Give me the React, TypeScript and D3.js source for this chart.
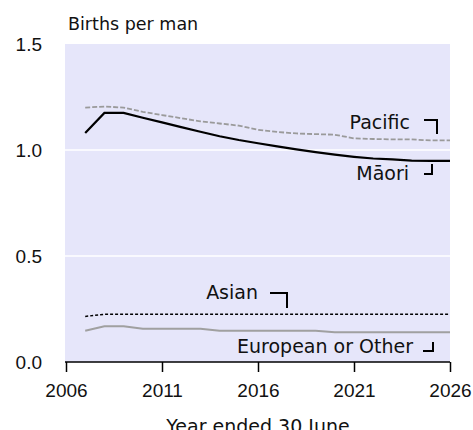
import React, { useEffect, useRef } from "react";
import * as d3 from "d3";

// Projected births per man, by ethnicity

const years = [2007, 2008, 2009, 2010, 2011, 2012, 2013, 2014, 2015, 2016, 2017, 2018, 2019, 2020, 2021, 2022, 2023, 2024, 2025, 2026];
const maori = [1.08, 1.175, 1.175, 1.152, 1.13, 1.108, 1.086, 1.065, 1.047, 1.032, 1.017, 1.003, 0.99, 0.978, 0.968, 0.96, 0.956, 0.95, 0.949, 0.949];
const pacific = [1.2, 1.205, 1.2, 1.18, 1.165, 1.15, 1.135, 1.125, 1.115, 1.095, 1.085, 1.078, 1.075, 1.072, 1.055, 1.052, 1.05, 1.05, 1.045, 1.045];
const asian = [0.215, 0.225, 0.225, 0.225, 0.225, 0.225, 0.225, 0.225, 0.225, 0.225, 0.225, 0.225, 0.225, 0.225, 0.225, 0.225, 0.225, 0.225, 0.225, 0.225];
const european = [0.147, 0.169, 0.169, 0.157, 0.157, 0.157, 0.157, 0.147, 0.147, 0.147, 0.147, 0.147, 0.147, 0.14, 0.14, 0.14, 0.14, 0.14, 0.14, 0.14];

const xTicks = [2006, 2011, 2016, 2021, 2026];
const yTicks = [0, 0.5, 1, 1.5];
const gridTicks = [0.5, 1];

const numFont = "'Liberation Sans', Arial, sans-serif";
const txtFont = "'DejaVu Sans', Verdana, sans-serif";

export default function App() {
  const ref = useRef<SVGSVGElement>(null);

  useEffect(() => {
    document.body.style.margin = "0";
    const svg = d3.select(ref.current);
    svg.selectAll("*").remove();

    const x = d3.scaleLinear().domain([2006, 2026]).range([66, 450]);
    const y = d3.scaleLinear().domain([0, 1.5]).range([362, 44]);

    // plot background
    svg.append("rect")
      .attr("x", 65).attr("y", y(1.5))
      .attr("width", 450 - 65).attr("height", y(0) - y(1.5))
      .attr("fill", "#e6e6fa");

    svg.selectAll(".grid").data(gridTicks).join("line")
      .attr("class", "grid")
      .attr("x1", 65).attr("x2", 450)
      .attr("y1", d => y(d)).attr("y2", d => y(d))
      .attr("stroke", "#fff").attr("stroke-width", 1.5);

    // x axis
    const xAxis = svg.append("g")
      .attr("transform", `translate(0, ${y(0)})`)
      .call(d3.axisBottom(x).tickValues(xTicks).tickFormat(d3.format("d")).tickSize(10).tickPadding(12));
    xAxis.select(".domain").attr("stroke", "#000").attr("stroke-width", 1.5).attr("d", `M65,0H450`);
    xAxis.selectAll(".tick line").attr("stroke", "#000").attr("stroke-width", 1.5);
    xAxis.selectAll(".tick text")
      .attr("font-family", numFont).attr("font-size", 19).attr("fill", "#111");

    // y labels
    svg.selectAll(".ylab").data(yTicks).join("text")
      .attr("class", "ylab")
      .attr("x", 42).attr("y", d => y(d) + 7)
      .attr("text-anchor", "end")
      .attr("font-family", numFont).attr("font-size", 19).attr("fill", "#111")
      .text(d => d3.format(".1f")(d));

    svg.append("text")
      .attr("x", 68).attr("y", 30)
      .attr("font-family", txtFont).attr("font-size", 17.5).attr("fill", "#111")
      .text("Births per man");

    svg.append("text")
      .attr("x", 258).attr("y", 433)
      .attr("text-anchor", "middle")
      .attr("font-family", txtFont).attr("font-size", 19).attr("fill", "#111")
      .text("Year ended 30 June");

    // series
    const series = [
      { values: european, color: "#a0a0a0", width: 2, dash: null },
      { values: asian, color: "#000", width: 1.5, dash: "3,2" },
      { values: pacific, color: "#9a9a9a", width: 1.8, dash: "5,2" },
      { values: maori, color: "#000", width: 2.2, dash: null },
    ];
    const line = d3.line<number>()
      .x((_, i) => x(years[i]))
      .y(d => y(d));
    series.forEach(s => {
      svg.append("path")
        .attr("d", line(s.values))
        .attr("fill", "none")
        .attr("stroke", s.color)
        .attr("stroke-width", s.width)
        .attr("stroke-dasharray", s.dash);
    });

    // labels with bracket marks
    const labels = [
      { text: "Pacific", x: 410, y: 129, bracket: "M424,120H437V134", anchor: "end" },
      { text: "Māori", x: 409, y: 180, bracket: "M432,164V174H424", anchor: "end" },
      { text: "Asian", x: 258, y: 299, bracket: "M270,293H287V308", anchor: "end" },
      { text: "European or Other", x: 413, y: 353, bracket: "M433,342V351H423", anchor: "end" },
    ];
    labels.forEach(l => {
      svg.append("text")
        .attr("x", l.x).attr("y", l.y)
        .attr("text-anchor", l.anchor)
        .attr("font-family", txtFont).attr("font-size", 19).attr("fill", "#111")
        .text(l.text);
      svg.append("path")
        .attr("d", l.bracket)
        .attr("fill", "none").attr("stroke", "#000").attr("stroke-width", 2);
    });
  }, []);

  return <svg ref={ref} width={473} height={430} style={{ display: "block" }} />;
}
